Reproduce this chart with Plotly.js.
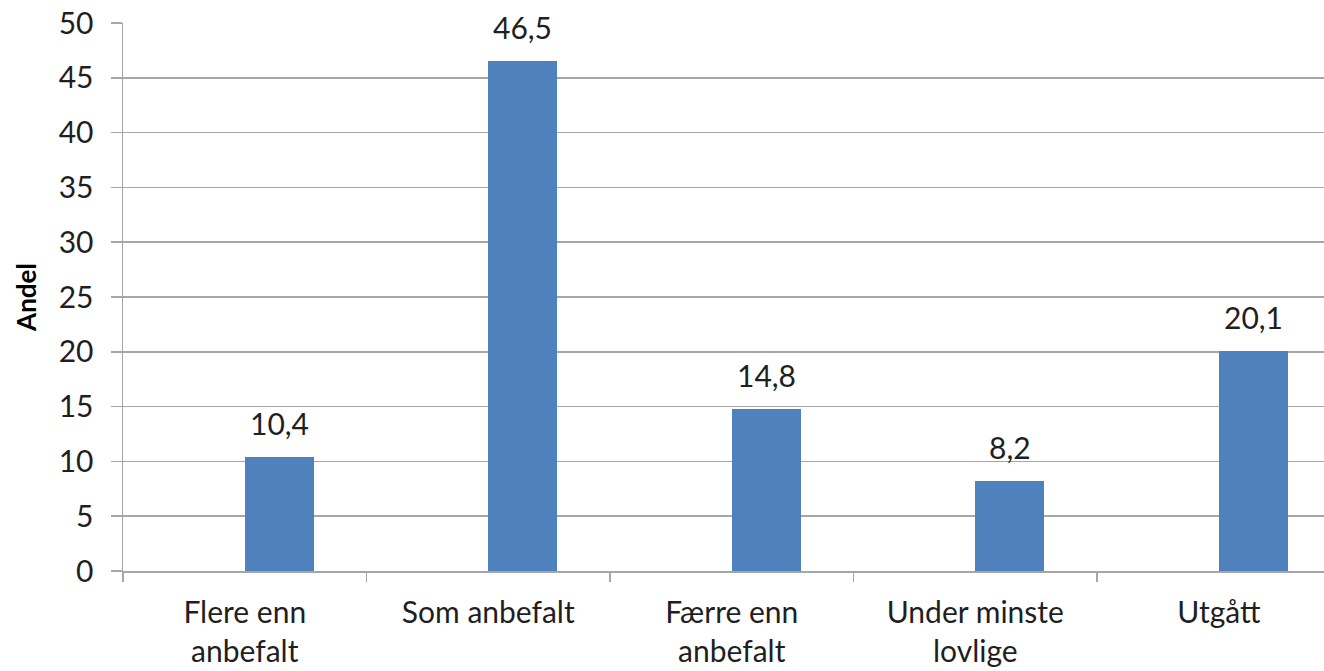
<!DOCTYPE html>
<html>
<head>
<meta charset="utf-8">
<script src="https://cdn.plot.ly/plotly-3.0.1.min.js"></script>
<style>html,body{margin:0;padding:0;background:#fff;}#chart{width:1324px;height:671px;}</style>
</head>
<body>
<div id="chart"></div>
<script>
const categories = ["Flere enn<br>anbefalt", "Som anbefalt", "Færre enn<br>anbefalt", "Under minste<br>lovlige", "Utgått"];
const values = [10.4, 46.5, 14.8, 8.2, 20.1];
const yTicks = [0, 5, 10, 15, 20, 25, 30, 35, 40, 45, 50];

const font = "Lato, 'Liberation Sans', sans-serif";
const textColor = "#1f1f1f";
const gridColor = "#a6a6a6";
const barWidth = 0.284;

const trace = {
  type: "bar",
  x: categories,
  y: values,
  width: barWidth,
  offset: 0,
  marker: {color: "#4f81bd"},
  hoverinfo: "none"
};

const annotations = values.map((v, i) => ({
  x: i + barWidth / 2,
  y: v,
  xref: "x", yref: "y",
  text: v.toFixed(1).replace(".", ","),
  showarrow: false,
  yanchor: "bottom",
  yshift: 14,
  font: {family: font, size: 30, color: textColor}
}));

const layout = {
  width: 1324, height: 671,
  margin: {l: 123, r: 0, t: 23, b: 100},
  paper_bgcolor: "#fff", plot_bgcolor: "#fff",
  showlegend: false,
  bargap: 0,
  font: {family: font, color: textColor, size: 30},
  annotations: annotations,
  xaxis: {
    type: "category",
    range: [-0.5, 4.432],
    tickson: "boundaries",
    ticks: "outside", ticklen: 9, tickcolor: gridColor, tickwidth: 1.5,
    showline: true, linecolor: gridColor, linewidth: 1.5,
    showgrid: false,
    ticklabelstandoff: 14,
    tickfont: {family: font, size: 30, color: textColor},
    fixedrange: true
  },
  yaxis: {
    range: [0, 50],
    tickvals: yTicks,
    ticktext: yTicks.map(String),
    ticks: "outside", ticklen: 11, tickcolor: gridColor, tickwidth: 1.5,
    showline: true, linecolor: gridColor, linewidth: 1.5,
    showgrid: true, gridcolor: gridColor, gridwidth: 1.5,
    zeroline: false,
    ticklabelstandoff: 11,
    tickfont: {family: font, size: 30, color: textColor},
    title: {text: "<b>Andel</b>", font: {family: font, size: 26, color: "#000"}, standoff: 14},
    fixedrange: true
  }
};

Plotly.newPlot("chart", [trace], layout, {displayModeBar: false, staticPlot: true});
</script>
</body>
</html>
